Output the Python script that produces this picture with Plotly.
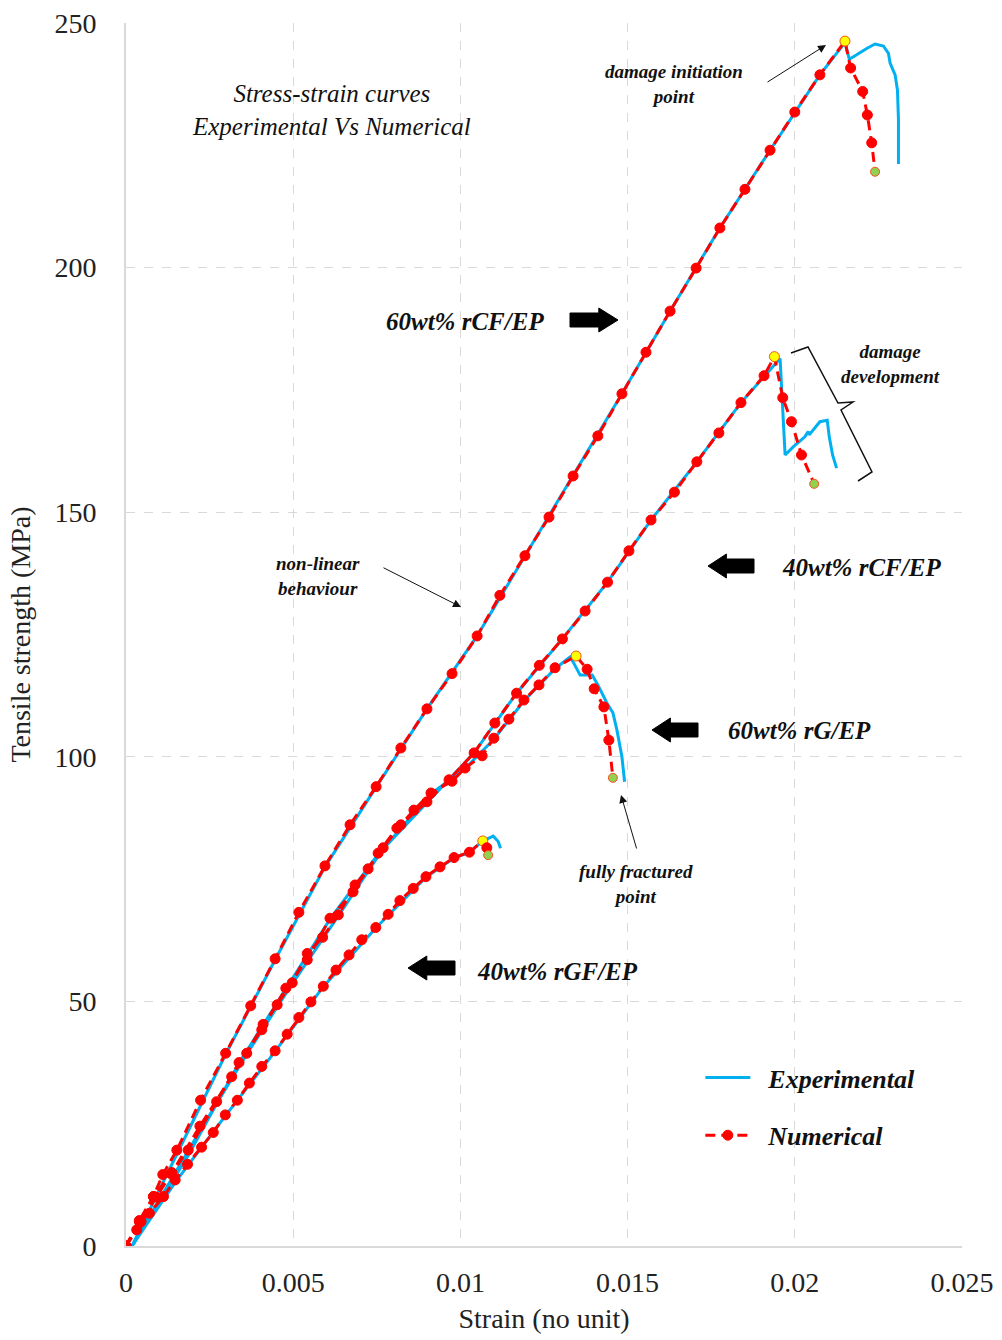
import plotly.graph_objects as go

# ---------------- data ----------------
# 60wt% rCF/EP
num_60rcf_strain = [0, 0.0004, 0.00082, 0.0011, 0.00152, 0.00223, 0.00298, 0.00373, 0.00446, 0.00517,
                    0.00595, 0.0067, 0.00748, 0.00822, 0.009, 0.00975, 0.0105, 0.01118, 0.01193, 0.01265,
                    0.01337, 0.01411, 0.01483, 0.01555, 0.01627, 0.01705, 0.01776, 0.01851, 0.01926, 0.02,
                    0.02075, 0.0215, 0.02167, 0.02203, 0.02217, 0.0223, 0.0224]
num_60rcf_stress = [0, 5.2, 10.1, 14.6, 19.6, 29.8, 39.4, 49.1, 58.7, 68.2,
                    77.7, 86.1, 93.9, 101.8, 109.8, 117.0, 124.7, 133.0, 141.1, 149.0,
                    157.4, 165.6, 174.2, 182.7, 191.1, 199.9, 208.1, 216.0, 224.0, 231.8,
                    239.4, 246.3, 240.8, 236.0, 231.2, 225.5, 219.6]
exp_60rcf_strain = [0.00018, 0.0015, 0.00298, 0.00446, 0.00595, 0.00748, 0.009, 0.0105, 0.01193, 0.01337,
                    0.01483, 0.01627, 0.01776, 0.01926, 0.02075, 0.0215, 0.02163, 0.02185, 0.02215, 0.0224,
                    0.02265, 0.0228, 0.02285, 0.023, 0.02307, 0.0231, 0.0231]
exp_60rcf_stress = [0, 18.5, 39.2, 58.5, 77.5, 93.8, 109.8, 124.7, 141.1, 157.4,
                    174.2, 191.1, 208.1, 224.0, 239.4, 246.0, 242.6, 243.5, 244.8, 245.7,
                    245.3, 243.8, 241.8, 239.4, 236.3, 230.2, 221.2]

# 40wt% rCF/EP
num_40rcf_strain = [0, 0.0004, 0.00082, 0.00137, 0.00186, 0.00271, 0.00338, 0.00406, 0.00478, 0.00542,
                    0.0061, 0.00679, 0.00754, 0.0081, 0.009, 0.00966, 0.01041, 0.01103, 0.01168, 0.01236,
                    0.01305, 0.01373, 0.0144, 0.01504, 0.0157, 0.0164, 0.01707, 0.01773, 0.01839, 0.01908,
                    0.01939, 0.01964, 0.0199, 0.0202, 0.02058]
num_40rcf_stress = [0, 5.0, 10.1, 15.0, 19.6, 29.5, 37.5, 44.2, 52.7, 58.5,
                    67.0, 72.4, 80.3, 85.4, 90.8, 95.3, 100.8, 106.9, 113.0, 118.7,
                    124.1, 129.8, 135.7, 142.1, 148.4, 154.1, 160.3, 166.2, 172.4, 177.9,
                    181.8, 173.4, 168.5, 161.7, 155.8]
exp_40rcf_strain = [0.00018, 0.00186, 0.00338, 0.00478, 0.0061, 0.00754, 0.009, 0.01041, 0.01168, 0.01305,
                    0.0144, 0.0157, 0.01707, 0.01839, 0.01956, 0.01964, 0.01971, 0.01996, 0.0203, 0.0204,
                    0.02043, 0.02075, 0.02097, 0.02103, 0.02113, 0.02125]
exp_40rcf_stress = [0, 18.5, 37.4, 52.5, 66.8, 80.1, 90.6, 100.8, 113.0, 124.1,
                    135.7, 148.4, 160.3, 172.4, 181.4, 171.6, 161.7, 163.4, 165.4, 166.5,
                    165.8, 168.5, 168.8, 165.4, 161.7, 159.0]

# 60wt% rG/EP
num_60rg_strain = [0, 0.00045, 0.0009, 0.00137, 0.00221, 0.00316, 0.00361, 0.0041, 0.00452, 0.00497,
                   0.00542, 0.00588, 0.00635, 0.00685, 0.00724, 0.00769, 0.00822, 0.00861, 0.00912, 0.00975,
                   0.01014, 0.01065, 0.011, 0.01145, 0.0119, 0.01235, 0.01283, 0.01346, 0.01379, 0.014,
                   0.01429, 0.01444, 0.01456]
num_60rg_stress = [0, 5.0, 10.0, 14.9, 24.5, 34.6, 39.4, 45.3, 49.3, 53.8,
                   59.8, 63.1, 67.7, 73.8, 77.1, 81.4, 86.1, 89.1, 92.6, 95.0,
                   97.7, 100.2, 103.8, 107.7, 111.6, 114.7, 118.2, 120.6, 117.9, 113.9,
                   110.2, 103.4, 95.7]
exp_60rg_strain = [0.00018, 0.00221, 0.00361, 0.00497, 0.00635, 0.00769, 0.00912, 0.01014, 0.011, 0.0119,
                   0.01283, 0.01328, 0.01337, 0.01358, 0.01394, 0.01411, 0.01438, 0.01456, 0.01468, 0.01483,
                   0.01491]
exp_60rg_stress = [0, 23.5, 39.2, 53.6, 67.5, 81.2, 92.4, 97.6, 103.6, 111.4,
                   118.0, 120.4, 119.4, 116.7, 116.7, 114.7, 111.0, 109.0, 105.5, 100.0,
                   94.9]

# 40wt% rGF/EP
num_40rgf_strain = [0, 0.00032, 0.00042, 0.0007, 0.00112, 0.00147, 0.00184, 0.00226, 0.00261, 0.00297,
                    0.00333, 0.00369, 0.00406, 0.00446, 0.00482, 0.00517, 0.00553, 0.0059, 0.00628, 0.00667,
                    0.00705, 0.00747, 0.00784, 0.00819, 0.00859, 0.00897, 0.00939, 0.00981, 0.01027, 0.01067,
                    0.01079, 0.01083]
num_40rgf_stress = [0, 3.3, 4.8, 6.7, 10.1, 13.5, 16.7, 20.2, 23.2, 26.8,
                    29.8, 33.3, 36.7, 39.9, 43.3, 46.7, 49.9, 53.1, 56.4, 59.5,
                    62.6, 65.1, 67.8, 70.6, 73.1, 75.5, 77.5, 79.4, 80.5, 82.8,
                    81.4, 79.9]
exp_40rgf_strain = [0.00018, 0.00147, 0.00297, 0.00446, 0.0059, 0.00747, 0.00897, 0.00981, 0.01027, 0.01067,
                    0.01098, 0.01113, 0.0112]
exp_40rgf_stress = [0, 13.0, 26.6, 39.8, 53.0, 65.0, 75.4, 79.3, 80.5, 82.8,
                    83.8, 82.7, 81.3]

# index of damage initiation point (peak) in each numerical series
peak_idx = {"60rcf": 31, "40rcf": 30, "60rg": 27, "40rgf": 29}

BLUE = "#00B0F0"
RED = "#FF0000"
FONT = "Liberation Serif"

fig = go.Figure()

exp_sets = [(exp_60rcf_strain, exp_60rcf_stress), (exp_40rcf_strain, exp_40rcf_stress),
            (exp_60rg_strain, exp_60rg_stress), (exp_40rgf_strain, exp_40rgf_stress)]
for i, (xs, ys) in enumerate(exp_sets):
    fig.add_trace(go.Scatter(x=xs, y=ys, mode="lines", line=dict(color=BLUE, width=3),
                             name="  <b><i>Experimental</i></b>", legendgroup="exp",
                             showlegend=(i == 0), hoverinfo="skip"))

num_sets = [("60rcf", num_60rcf_strain, num_60rcf_stress), ("40rcf", num_40rcf_strain, num_40rcf_stress),
            ("60rg", num_60rg_strain, num_60rg_stress), ("40rgf", num_40rgf_strain, num_40rgf_stress)]
for i, (key, xs, ys) in enumerate(num_sets):
    n = len(xs)
    pk = peak_idx[key]
    colors = [RED] * n
    sizes = [10] * n
    lcol = [RED] * n
    colors[pk] = "#FFFF00"; sizes[pk] = 10; lcol[pk] = "#F4511E"
    colors[-1] = "#92D050"; sizes[-1] = 9; lcol[-1] = "#F4511E"
    fig.add_trace(go.Scatter(x=xs, y=ys, mode="lines+markers",
                             line=dict(color=RED, width=3, dash="10px,6px"),
                             marker=dict(color=colors, size=sizes, opacity=1, line=dict(color=lcol, width=1)),
                             name="  <b><i>Numerical</i></b>", legendgroup="num",
                             showlegend=(i == 0), hoverinfo="skip"))


def P(px, py):
    """pixel position in the picture -> data coordinates (for decorations)"""
    return ((px - 126) / 836 * 0.025, (1246 - py) / 1223 * 250)


anns = []


def text(px, py, t, size, bold=True, italic=True):
    x, y = P(px, py)
    s = t
    if italic:
        s = "<i>" + s + "</i>"
    if bold:
        s = "<b>" + s + "</b>"
    anns.append(dict(x=x, y=y, xref="x", yref="y", text=s, showarrow=False,
                     font=dict(family=FONT, size=size, color="#111111"), align="center"))


def arrow(hx, hy, tx, ty):
    x, y = P(hx, hy)
    anns.append(dict(x=x, y=y, xref="x", yref="y", text="", showarrow=True,
                     ax=tx - hx, ay=ty - hy, arrowhead=2, arrowsize=1.6, arrowwidth=1,
                     arrowcolor="#111111", standoff=0))


text(331, 110, "Stress-strain curves<br>Experimental Vs Numerical", 25, bold=False)
text(674, 84, "damage initiation<br>point", 19)
arrow(826, 45, 766, 83)
text(465, 321, "60wt% rCF/EP", 25)
text(890, 364, "damage<br>development", 19)
text(861, 567, "40wt% rCF/EP", 25)
text(318, 576, "non-linear<br>behaviour", 19)
arrow(461, 607, 382, 567)
text(799, 730, "60wt% rG/EP", 25)
text(636, 884, "fully fractured<br>point", 19)
arrow(621, 795, 637, 850)
text(557, 971, "40wt% rGF/EP", 25)

shapes = []


def block_arrow(x0, x1, cy, direction):
    # x0 < x1 pixels; direction 'right' or 'left'
    L = x1 - x0
    head = 0.4 * L
    bh, hh = 7, 12
    if direction == "right":
        pts = [(x0, cy - bh), (x1 - head, cy - bh), (x1 - head, cy - hh), (x1, cy),
               (x1 - head, cy + hh), (x1 - head, cy + bh), (x0, cy + bh)]
    else:
        pts = [(x1, cy - bh), (x0 + head, cy - bh), (x0 + head, cy - hh), (x0, cy),
               (x0 + head, cy + hh), (x0 + head, cy + bh), (x1, cy + bh)]
    d = ""
    for k, (px, py) in enumerate(pts):
        x, y = P(px, py)
        d += ("M" if k == 0 else "L") + f"{x},{y} "
    d += "Z"
    shapes.append(dict(type="path", path=d, xref="x", yref="y", fillcolor="#000000",
                       line=dict(color="#000000", width=1)))


block_arrow(570, 618, 320, "right")
block_arrow(708, 754, 566, "left")
block_arrow(652, 698, 730, "left")
block_arrow(408, 455, 968, "left")

# curly brace for damage development
brace_px = [(791, 353), (808, 347), (838, 403), (853, 402), (841, 410), (872, 472), (858, 481)]
d = ""
for k, (px, py) in enumerate(brace_px):
    x, y = P(px, py)
    d += ("M" if k == 0 else "L") + f"{x},{y} "
shapes.append(dict(type="path", path=d, xref="x", yref="y", line=dict(color="#111111", width=1.5)))

fig.update_layout(
    width=1002, height=1340,
    margin=dict(l=126, r=40, t=23, b=94, autoexpand=False),
    plot_bgcolor="white", paper_bgcolor="white",
    font=dict(family=FONT, size=28, color="#222222"),
    annotations=anns, shapes=shapes,
    legend=dict(x=0.687, y=0.157, xanchor="left", yanchor="top",
                font=dict(family=FONT, size=26, color="#111111"),
                bgcolor="rgba(0,0,0,0)", tracegroupgap=21, itemwidth=45),
    showlegend=True,
)
fig.update_xaxes(range=[0, 0.025], tickvals=[0, 0.005, 0.01, 0.015, 0.02, 0.025],
                 ticktext=["0", "0.005", "0.01", "0.015", "0.02", "0.025"],
                 showgrid=True, gridcolor="#D9D9D9", griddash="dash", gridwidth=1,
                 showline=True, linecolor="#D9D9D9", linewidth=2, zeroline=False,
                 ticks="", ticklabelstandoff=10, automargin=False,
                 tickfont=dict(family=FONT, size=28, color="#222222"),
                 title=dict(text="Strain (no unit)", font=dict(family=FONT, size=28, color="#222222"),
                            standoff=12))
fig.update_yaxes(range=[0, 250], tickvals=[0, 50, 100, 150, 200, 250],
                 showgrid=True, gridcolor="#D9D9D9", griddash="dash", gridwidth=1,
                 showline=True, linecolor="#D9D9D9", linewidth=2, zeroline=False,
                 ticks="", ticklabelstandoff=22, automargin=False,
                 tickfont=dict(family=FONT, size=28, color="#222222"),
                 title=dict(text="Tensile strength (MPa)", font=dict(family=FONT, size=28, color="#222222"),
                            standoff=16))

fig.write_html("out.html")
